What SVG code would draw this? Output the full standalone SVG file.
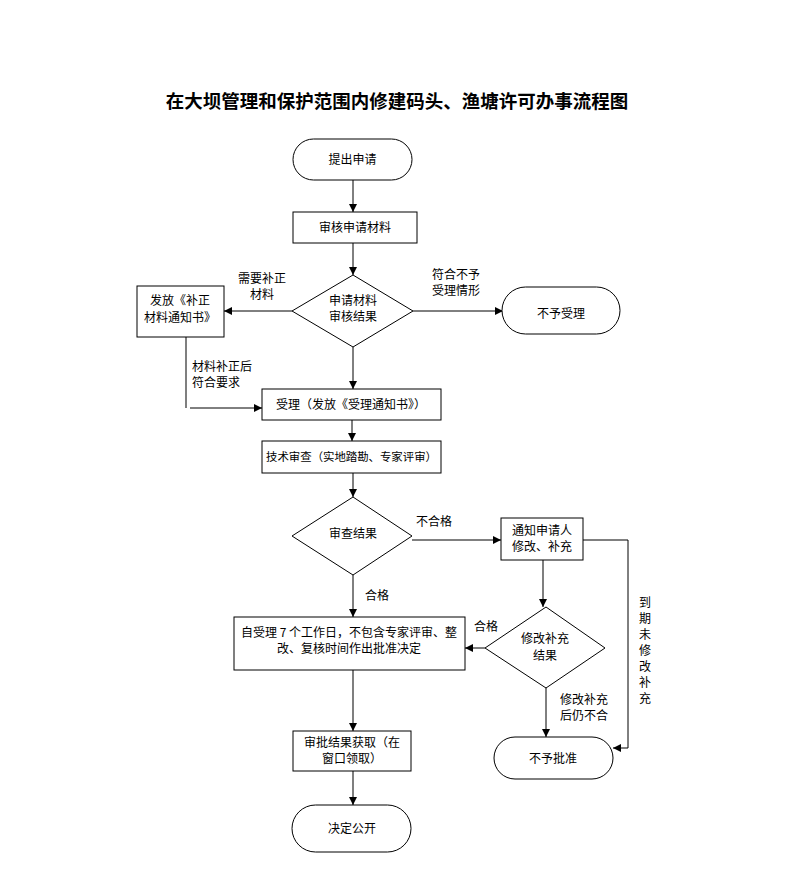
<svg xmlns="http://www.w3.org/2000/svg" width="793" height="869" viewBox="0 0 793 869">
<style>
text{font-family:"Noto Sans CJK SC","Liberation Sans",sans-serif;font-size:12px;fill:#000}
.t{font-size:18.5px;font-weight:bold}
.n{fill:#fff;stroke:#000;stroke-width:1}
.m{text-anchor:middle}
.s{font-size:11.4px}
.c{fill:none;stroke:#000;stroke-width:1}
.g{fill:none;stroke:#555;stroke-width:1.5}
</style>
<defs>
<marker id="a" markerWidth="10" markerHeight="10" refX="9" refY="5" orient="auto" markerUnits="userSpaceOnUse">
<path d="M1,1 L9,5 L1,9 Z" fill="#000"/>
</marker>
</defs>
<rect width="793" height="869" fill="#fff"/>
<text class="t m" x="397" y="108">在大坝管理和保护范围内修建码头、渔塘许可办事流程图</text>

<g id="connectors">
<line class="c" x1="353" y1="180" x2="353" y2="212" marker-end="url(#a)"/>
<line class="c" x1="353" y1="243" x2="353" y2="275" marker-end="url(#a)"/>
<line class="c" x1="292" y1="311" x2="224" y2="311" marker-end="url(#a)"/>
<line class="c" x1="413" y1="311" x2="503" y2="311" marker-end="url(#a)"/>
<line class="c" x1="353" y1="347" x2="353" y2="389" marker-end="url(#a)"/>
<line class="g" x1="186" y1="337" x2="186" y2="408"/>
<line class="c" x1="190" y1="408" x2="262" y2="408" marker-end="url(#a)"/>
<line class="c" x1="352" y1="420" x2="352" y2="441" marker-end="url(#a)"/>
<line class="c" x1="353" y1="473" x2="353" y2="497" marker-end="url(#a)"/>
<line class="c" x1="412" y1="540" x2="501" y2="540" marker-end="url(#a)"/>
<line class="c" x1="353" y1="575" x2="353" y2="617" marker-end="url(#a)"/>
<line class="g" x1="543" y1="560" x2="543" y2="607" marker-end="url(#a)"/>
<line class="c" x1="485" y1="648" x2="465" y2="648" marker-end="url(#a)"/>
<line class="c" x1="546" y1="687" x2="546" y2="737" marker-end="url(#a)"/>
<polyline class="c" points="583,540 628,540 628,748 613,748" marker-end="url(#a)"/>
<line class="g" x1="353" y1="670" x2="353" y2="731" marker-end="url(#a)"/>
<line class="g" x1="353" y1="771" x2="353" y2="805" marker-end="url(#a)"/>
<text class="m" x="262" y="283">需要补正</text>
<text class="m" x="262" y="299">材料</text>
<text x="432" y="279">符合不予</text>
<text x="432" y="295">受理情形</text>
<text x="192" y="371">材料补正后</text>
<text x="192" y="387">符合要求</text>
<text x="416" y="526">不合格</text>
<text x="365" y="600">合格</text>
<text x="474" y="631">合格</text>
<text x="560" y="704">修改补充</text>
<text x="560" y="720">后仍不合</text>
<text class="m" x="645" y="607">到</text>
<text class="m" x="645" y="623">期</text>
<text class="m" x="645" y="639">未</text>
<text class="m" x="645" y="655">修</text>
<text class="m" x="645" y="671">改</text>
<text class="m" x="645" y="687">补</text>
<text class="m" x="645" y="703">充</text>
</g>

<g id="start">
<rect class="n" x="293" y="139" width="119" height="41" rx="20.5"/>
<text class="m" x="352.5" y="164">提出申请</text>
</g>
<g id="review">
<rect class="n" x="293" y="212" width="124" height="31"/>
<text class="m" x="355" y="232">审核申请材料</text>
</g>
<g id="decision1">
<polygon class="n" points="353,275 413,311 353,347 292,311"/>
<text class="m" x="353" y="305">申请材料</text>
<text class="m" x="353" y="321">审核结果</text>
</g>
<g id="supplement">
<rect class="n" x="137" y="286" width="87" height="51"/>
<text class="m" x="180" y="305">发放《补正</text>
<text class="m" x="180" y="322">材料通知书》</text>
</g>
<g id="reject1">
<rect class="n" x="502" y="287" width="118" height="47" rx="23.5"/>
<text class="m" x="561" y="318">不予受理</text>
</g>
<g id="accept">
<rect class="n" x="262" y="389" width="179" height="31"/>
<text class="m" x="351" y="409">受理（发放《受理通知书》）</text>
</g>
<g id="tech">
<rect class="n" x="262" y="441" width="179" height="32"/>
<text class="m s" x="351.5" y="461">技术审查（实地踏勘、专家评审）</text>
</g>
<g id="decision2">
<polygon class="n" points="353,497 412,536 353,575 292,536"/>
<text class="m" x="353" y="538">审查结果</text>
</g>
<g id="notify">
<rect class="n" x="501" y="518" width="82" height="42"/>
<text class="m" x="542" y="535">通知申请人</text>
<text class="m" x="542" y="551">修改、补充</text>
</g>
<g id="decision3">
<polygon class="n" points="546,607 605,648 546,688 485,648"/>
<text class="m" x="545" y="643">修改补充</text>
<text class="m" x="545" y="660">结果</text>
</g>
<g id="approve">
<rect class="n" x="234" y="617" width="231" height="53"/>
<text class="m" x="349" y="637">自受理 7 个工作日，不包含专家评审、整</text>
<text class="m" x="349" y="653">改、复核时间作出批准决定</text>
</g>
<g id="reject2">
<rect class="n" x="494" y="737" width="119" height="42" rx="21"/>
<text class="m" x="553" y="763">不予批准</text>
</g>
<g id="obtain">
<rect class="n" x="293" y="731" width="118" height="40"/>
<text class="m" x="352" y="747">审批结果获取（在</text>
<text class="m" x="352" y="763">窗口领取）</text>
</g>
<g id="publish">
<rect class="n" x="292" y="805" width="119" height="47" rx="23.5"/>
<text class="m" x="352" y="833">决定公开</text>
</g>
</svg>
